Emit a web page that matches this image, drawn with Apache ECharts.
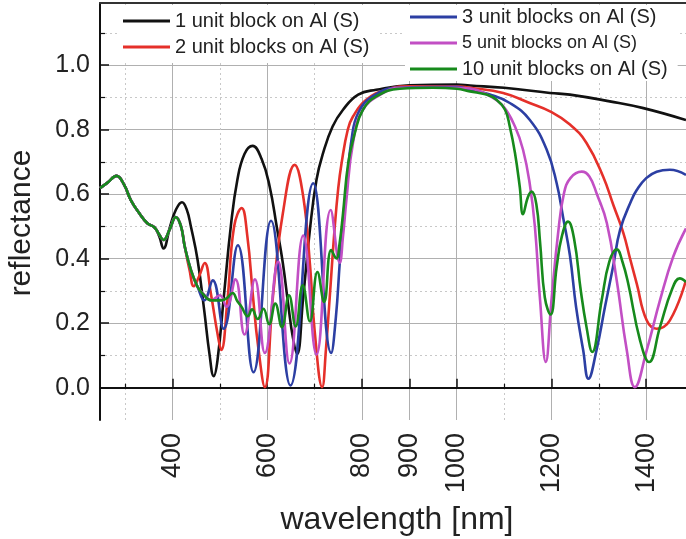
<!DOCTYPE html>
<html><head><meta charset="utf-8">
<script src="https://cdn.jsdelivr.net/npm/echarts@6/dist/echarts.min.js"></script>
<style>html,body{margin:0;padding:0;background:#fff}#c{width:686px;height:539px}</style>
</head><body><div id="c"></div>
<script>
// tick values
const majorX = [400, 600, 800, 900, 1000, 1200, 1400];
const minorX = [300, 500, 700, 1100, 1300];
const majorY = [0, 0.2, 0.4, 0.6, 0.8, 1.0];
const minorY = [0.1, 0.3, 0.5, 0.7, 0.9, 1.1];

const names = ['1 unit block on Al (S)', '2 unit blocks on Al (S)', '3 unit blocks on Al (S)', '5 unit blocks on Al (S)', '10 unit blocks on Al (S)'];

// 1 unit block (black)
const wl1 = [247, 263, 282, 298, 312, 330, 347, 362, 372, 381, 395, 407, 420, 430, 439, 453, 467, 478, 487, 495, 509, 523, 537, 552, 569, 588, 605, 620, 633, 645, 654, 663, 676, 690, 704, 718, 738, 760, 792, 830, 900, 1000, 1028, 1100, 1197, 1239, 1323, 1394, 1484];
const r1 = [0.619, 0.636, 0.657, 0.629, 0.582, 0.541, 0.510, 0.497, 0.470, 0.432, 0.500, 0.551, 0.575, 0.553, 0.499, 0.396, 0.240, 0.106, 0.036, 0.085, 0.292, 0.499, 0.645, 0.725, 0.750, 0.710, 0.625, 0.500, 0.386, 0.250, 0.157, 0.104, 0.282, 0.489, 0.645, 0.728, 0.810, 0.862, 0.909, 0.924, 0.938, 0.940, 0.937, 0.930, 0.914, 0.909, 0.888, 0.867, 0.830];

// 2 unit blocks (red)
const wl2 = [247, 263, 282, 298, 312, 330, 347, 362, 372, 381, 394, 407, 418, 426, 436, 445, 456, 468, 481, 495, 503, 516, 530, 546, 558, 570, 581, 595, 612, 633, 658, 676, 690, 700, 716, 724, 732, 742, 750, 757, 770, 781, 809, 852, 900, 1000, 1028, 1098, 1154, 1197, 1239, 1274, 1309, 1331, 1352, 1366, 1380, 1401, 1422, 1450, 1484];
const r2 = [0.619, 0.636, 0.657, 0.629, 0.582, 0.541, 0.510, 0.497, 0.475, 0.458, 0.490, 0.529, 0.500, 0.437, 0.365, 0.315, 0.345, 0.387, 0.292, 0.168, 0.117, 0.271, 0.499, 0.557, 0.470, 0.282, 0.126, 0.002, 0.282, 0.541, 0.691, 0.593, 0.386, 0.178, 0.002, 0.120, 0.282, 0.489, 0.620, 0.697, 0.800, 0.841, 0.893, 0.925, 0.935, 0.935, 0.930, 0.914, 0.883, 0.857, 0.816, 0.759, 0.655, 0.565, 0.479, 0.400, 0.323, 0.209, 0.183, 0.209, 0.334];

// 3 unit blocks (blue)
const wl3 = [247, 263, 282, 298, 312, 330, 347, 362, 372, 381, 394, 407, 418, 426, 439, 453, 467, 485, 508, 538, 571, 608, 649, 697, 735, 745, 753, 760, 767, 778, 792, 823, 873, 1000, 1028, 1070, 1112, 1154, 1190, 1211, 1225, 1239, 1252, 1267, 1278, 1295, 1313, 1330, 1345, 1369, 1380, 1400, 1422, 1450, 1484];
const r3 = [0.619, 0.636, 0.657, 0.629, 0.582, 0.541, 0.510, 0.497, 0.475, 0.458, 0.490, 0.529, 0.500, 0.437, 0.365, 0.313, 0.271, 0.333, 0.183, 0.442, 0.048, 0.518, 0.007, 0.634, 0.108, 0.220, 0.386, 0.520, 0.620, 0.770, 0.852, 0.904, 0.930, 0.933, 0.924, 0.909, 0.883, 0.831, 0.738, 0.634, 0.525, 0.410, 0.250, 0.116, 0.028, 0.116, 0.251, 0.375, 0.490, 0.582, 0.613, 0.650, 0.670, 0.676, 0.660];

// 5 unit blocks (magenta)
const wl5 = [247, 263, 282, 298, 312, 330, 347, 362, 372, 381, 394, 407, 418, 426, 439, 453, 466, 482, 500, 514, 533, 552, 574, 595, 623, 647, 676, 704, 734, 753, 760, 767, 781, 802, 845, 880, 1000, 1028, 1070, 1098, 1123, 1140, 1154, 1165, 1176, 1188, 1200, 1214, 1226, 1240, 1264, 1280, 1296, 1317, 1338, 1359, 1376, 1401, 1429, 1457, 1484];
const r5 = [0.619, 0.636, 0.657, 0.629, 0.582, 0.541, 0.510, 0.497, 0.475, 0.458, 0.490, 0.529, 0.500, 0.437, 0.365, 0.313, 0.290, 0.271, 0.287, 0.251, 0.336, 0.165, 0.336, 0.108, 0.391, 0.075, 0.472, 0.103, 0.551, 0.388, 0.470, 0.580, 0.759, 0.862, 0.914, 0.930, 0.930, 0.928, 0.904, 0.873, 0.810, 0.738, 0.634, 0.500, 0.271, 0.080, 0.271, 0.479, 0.600, 0.650, 0.670, 0.655, 0.600, 0.510, 0.330, 0.116, 0.002, 0.116, 0.271, 0.406, 0.494];

// 10 unit blocks (green)
const wl10 = [247, 263, 282, 298, 312, 330, 347, 362, 372, 381, 394, 407, 418, 426, 439, 453, 465, 482, 503, 514, 527, 537, 545, 559, 568, 580, 592, 604, 617, 631, 646, 660, 675, 690, 706, 720, 735, 746, 753, 760, 771, 785, 802, 831, 880, 950, 1000, 1028, 1063, 1084, 1102, 1112, 1123, 1133, 1140, 1150, 1158, 1168, 1176, 1186, 1198, 1211, 1222, 1235, 1248, 1262, 1274, 1286, 1306, 1322, 1338, 1350, 1362, 1387, 1406, 1429, 1454, 1471, 1484];
const r10 = [0.619, 0.636, 0.657, 0.629, 0.582, 0.541, 0.510, 0.497, 0.475, 0.458, 0.490, 0.529, 0.500, 0.437, 0.365, 0.313, 0.290, 0.271, 0.271, 0.277, 0.294, 0.268, 0.253, 0.222, 0.243, 0.213, 0.245, 0.197, 0.261, 0.188, 0.287, 0.190, 0.318, 0.206, 0.359, 0.266, 0.427, 0.401, 0.450, 0.541, 0.697, 0.790, 0.862, 0.904, 0.927, 0.930, 0.927, 0.919, 0.909, 0.893, 0.862, 0.810, 0.728, 0.624, 0.538, 0.590, 0.608, 0.570, 0.450, 0.280, 0.227, 0.375, 0.470, 0.515, 0.460, 0.300, 0.188, 0.111, 0.271, 0.390, 0.429, 0.390, 0.323, 0.147, 0.080, 0.188, 0.303, 0.339, 0.328];

const colors = ['#111111', '#e5302a', '#2c3fa3', '#c24fc4', '#178a1c'];
const wls = [wl1, wl2, wl3, wl5, wl10];
const rs = [r1, r2, r3, r5, r10];

const FONT = '"Liberation Sans", Arial, sans-serif';
const chart = echarts.init(document.getElementById('c'), null, {renderer: 'canvas'});

const xCommon = {type: 'value', min: 247, max: 1484, gridIndex: 0};
const yCommon = {type: 'value', min: -0.1, max: 1.193, gridIndex: 0};

const series = names.map((n, k) => ({
  name: n, type: 'line', xAxisIndex: 0, yAxisIndex: 0,
  data: wls[k].map((w, i) => [w, rs[k][i]]),
  showSymbol: false, symbol: 'none', smooth: 0.45,
  lineStyle: {color: colors[k], width: 2.6},
  itemStyle: {color: colors[k]},
  z: 10 + k, animation: false
}));

chart.setOption({
  animation: false,
  textStyle: {fontFamily: FONT},
  grid: {left: 100, right: 0, top: 3, bottom: 119, containLabel: false},
  xAxis: [
    Object.assign({}, xCommon, {
      position: 'bottom',
      axisLine: {show: true, lineStyle: {color: '#111', width: 2}},
      axisTick: {show: true, inside: true, length: 9, customValues: majorX, lineStyle: {color: '#111', width: 1.5}},
      axisLabel: {customValues: majorX, rotate: 90, fontSize: 27, color: '#222', margin: 13, fontFamily: FONT,
                  formatter: v => String(v)},
      splitLine: {show: true, lineStyle: {color: '#b0b0b0', width: 1}}
    }),
    Object.assign({}, xCommon, {
      position: 'bottom',
      axisLine: {show: false},
      axisTick: {show: true, inside: true, length: 4, customValues: minorX, lineStyle: {color: '#111', width: 1.2}},
      axisLabel: {show: false},
      splitLine: {show: true, lineStyle: {color: '#c8c8c8', width: 1, type: [2, 3]}}
    }),
    Object.assign({}, xCommon, {
      position: 'top',
      axisLine: {show: true, lineStyle: {color: '#333', width: 2}},
      axisTick: {show: false}, axisLabel: {show: false}, splitLine: {show: false}
    })
  ],
  yAxis: [
    Object.assign({}, yCommon, {
      position: 'left',
      axisLine: {show: true, onZero: false, lineStyle: {color: '#111', width: 2}},
      axisTick: {show: true, inside: true, length: 9, customValues: majorY, lineStyle: {color: '#111', width: 1.5}},
      axisLabel: {customValues: majorY, fontSize: 25, color: '#222', margin: 10, fontFamily: FONT,
                  formatter: v => v.toFixed(1)},
      splitLine: {show: true, lineStyle: {color: '#b0b0b0', width: 1}}
    }),
    Object.assign({}, yCommon, {
      position: 'left',
      axisLine: {show: false},
      axisTick: {show: true, inside: true, length: 5, customValues: minorY, lineStyle: {color: '#111', width: 1.2}},
      axisLabel: {show: false},
      splitLine: {show: true, lineStyle: {color: '#c8c8c8', width: 1, type: [2, 3]}}
    })
  ],
  legend: [
    {
      data: [{name: names[0]}, {name: names[1]}],
      orient: 'vertical', left: 118, top: 5,
      padding: [6, 8, 6, 5], itemGap: 6,
      backgroundColor: '#fff',
      icon: 'rect', itemWidth: 47, itemHeight: 3,
      textStyle: {fontSize: 20, lineHeight: 20, color: '#222', fontFamily: FONT},
      selectedMode: false, z: 5
    },
    {
      data: [{name: names[2]}, {name: names[3], textStyle: {fontSize: 18}}, {name: names[4]}],
      orient: 'vertical', left: 405, top: 5,
      padding: [2, 10, 2, 5], itemGap: 6,
      backgroundColor: '#fff',
      icon: 'rect', itemWidth: 47, itemHeight: 3,
      textStyle: {fontSize: 20, lineHeight: 20, color: '#222', fontFamily: FONT},
      selectedMode: false, z: 5
    }
  ],
  graphic: [
    {type: 'text', x: 22, y: 223, rotation: Math.PI / 2,
     style: {text: 'reflectance', font: '30px "Liberation Sans", Arial, sans-serif', fill: '#222', align: 'center', verticalAlign: 'middle'}},
    {type: 'text', x: 397, y: 520,
     style: {text: 'wavelength [nm]', font: '32px "Liberation Sans", Arial, sans-serif', fill: '#222', align: 'center', verticalAlign: 'middle'}}
  ],
  series: series
});
</script>
</body></html>
